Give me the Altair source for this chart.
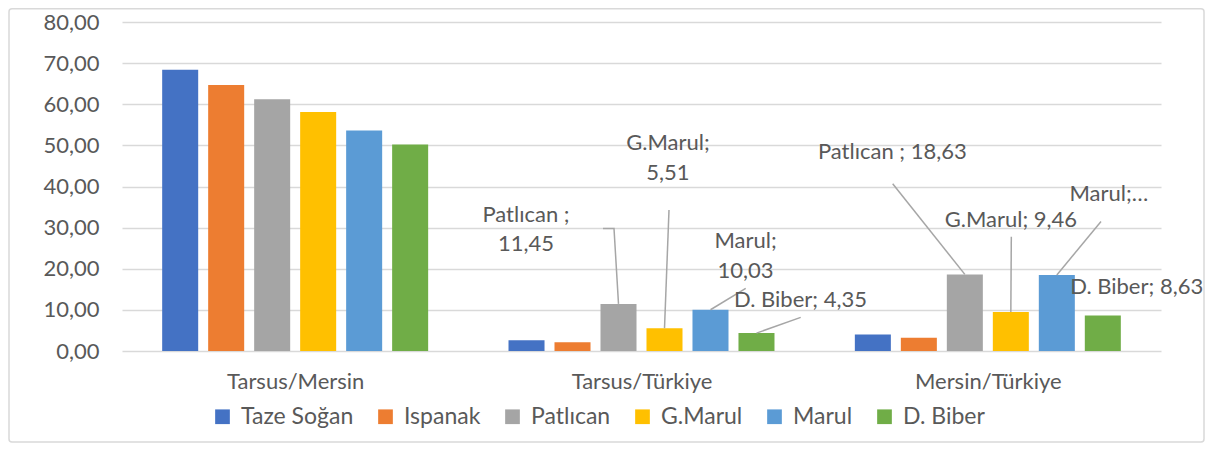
import altair as alt
import pandas as pd

# ---------------- data ----------------
regions = ["Tarsus/Mersin", "Tarsus/Türkiye", "Mersin/Türkiye"]
products = ["Taze Soğan", "Ispanak", "Patlıcan", "G.Marul", "Marul", "D. Biber"]
colors = ["#4472C4", "#ED7D31", "#A5A5A5", "#FFC000", "#5B9BD5", "#70AD47"]

tarsus_mersin = [68.4, 64.7, 61.2, 58.1, 53.6, 50.2]
tarsus_turkiye = [2.6, 2.1, 11.45, 5.51, 10.03, 4.35]
mersin_turkiye = [4.0, 3.2, 18.63, 9.46, 18.5, 8.63]
series = [tarsus_mersin, tarsus_turkiye, mersin_turkiye]

y_ticks = [0, 10, 20, 30, 40, 50, 60, 70, 80]

# data labels (Excel style, with leader lines)
label_region = ["Tarsus/Türkiye"] * 4 + ["Mersin/Türkiye"] * 4
label_product = ["Patlıcan", "G.Marul", "Marul", "D. Biber"] * 2
label_text = ["Patlıcan ;\n11,45", "G.Marul;\n5,51", "Marul;\n10,03", "D. Biber; 4,35",
              "Patlıcan ; 18,63", "G.Marul; 9,46", "Marul;…", "D. Biber; 8,63"]
# label anchor positions in chart units (x: group units, y: value units)
label_u = [1.1665, 1.5765, 1.8006, 1.9591, 2.2242, 2.5664, 2.8493, 2.9298]
label_v = [31.47, 48.77, 24.98, 10.81, 46.68, 30.27, 36.59, 13.86]

# leader lines: start points (label side), end at the bar top
leader_region = ["Tarsus/Türkiye"] * 4 + ["Mersin/Türkiye"] * 3
leader_product = ["Patlıcan", "G.Marul", "Marul", "D. Biber", "Patlıcan", "G.Marul", "Marul"]
leader_start = [
    [(1.3888, 29.79), (1.4206, 29.79)],
    [(1.5794, 34.28)],
    [(1.8009, 15.21)],
    [(1.9597, 8.17)],
    [(2.2253, 40.67)],
    [(2.5678, 27.80)],
    [(2.8268, 31.47)],
]

# ---------------- layout constants ----------------
BAR_STEP = 0.1328
BAR_W = 0.104
FONT = "Lato"
TXT = "#595959"
FS = 22

rows = []
for gi, (reg, vals) in enumerate(zip(regions, series)):
    for pi, (prod, v) in enumerate(zip(products, vals)):
        c = gi + 0.5 + (pi - 2.5) * BAR_STEP
        rows.append(dict(region=reg, product=prod, value=v, c=c,
                         x0=c - BAR_W / 2, x1=c + BAR_W / 2))
bars_df = pd.DataFrame(rows)

labels_df = pd.DataFrame(dict(region=label_region, product=label_product,
                              text=label_text, u=label_u, v=label_v))

lrows = []
for i, (reg, prod, pts) in enumerate(zip(leader_region, leader_product, leader_start)):
    k = 0
    for (u, v) in pts:
        lrows.append(dict(lid=i, k=k, u=u, v=v))
        k += 1
    b = bars_df[(bars_df.region == reg) & (bars_df["product"] == prod)].iloc[0]
    lrows.append(dict(lid=i, k=k, u=b.c, v=b.value))
leaders_df = pd.DataFrame(lrows)

xscale = alt.Scale(domain=[0, 3], nice=False, zero=False)
yscale = alt.Scale(domain=[0, 80], nice=False)

region_expr = "[" + ",".join("'" + r + "'" for r in regions) + "][floor(datum.value)]"

bars = alt.Chart(bars_df).mark_bar().encode(
    x=alt.X("x0:Q", scale=xscale,
            axis=alt.Axis(values=[0.5, 1.5, 2.5], labelExpr=region_expr, title=None,
                          grid=False, ticks=False, tickSize=0, domain=False,
                          labelFont=FONT, labelFontSize=FS, labelColor=TXT,
                          labelPadding=20)),
    x2="x1:Q",
    y=alt.Y("value:Q", scale=yscale,
            axis=alt.Axis(values=y_ticks, title=None, ticks=False, tickSize=0,
                          domain=False, grid=True, gridColor="#d9d9d9", gridWidth=1.5,
                          labelExpr="replace(format(datum.value, '.2f'), '.', ',')",
                          labelFont=FONT, labelFontSize=FS, labelColor=TXT,
                          labelPadding=23)),
    y2=alt.datum(0),
    color=alt.Color("product:N", scale=alt.Scale(domain=products, range=colors),
                    sort=products,
                    legend=alt.Legend(orient="none", legendX=89, legendY=383,
                                      direction="horizontal", columns=6, title=None,
                                      symbolType="square", symbolSize=216,
                                      symbolStrokeWidth=0, labelFont=FONT,
                                      labelFontSize=23, labelColor=TXT,
                                      labelOffset=7, columnPadding=20, padding=0)),
)

leaders = alt.Chart(leaders_df).mark_line(color="#a6a6a6", strokeWidth=1.5).encode(
    x=alt.X("u:Q", scale=xscale),
    y=alt.Y("v:Q", scale=yscale),
    detail="lid:N",
    order="k:Q",
)

texts = alt.Chart(labels_df).mark_text(
    font=FONT, fontSize=FS, color=TXT, align="center", baseline="alphabetic",
    lineBreak="\n", lineHeight=29.5,
).encode(
    x=alt.X("u:Q", scale=xscale),
    y=alt.Y("v:Q", scale=yscale),
    text="text:N",
)

border = alt.Chart(pd.DataFrame({"a": [0]})).mark_rect(
    fill="transparent", stroke="#d9d9d9", strokeWidth=1.5, cornerRadius=3
).encode(
    x=alt.value(-113), x2=alt.value(1082), y=alt.value(-13.25), y2=alt.value(420)
)

chart = alt.layer(border, bars, leaders, texts).properties(
    width=1039, height=329,
    autosize=alt.AutoSizeParams(type="none"),
    padding={"left": 114, "top": 14, "right": 44, "bottom": 92},
    background="white",
).configure_view(stroke=None)

chart.save("out.html", embed_options={"renderer": "svg", "actions": False})
